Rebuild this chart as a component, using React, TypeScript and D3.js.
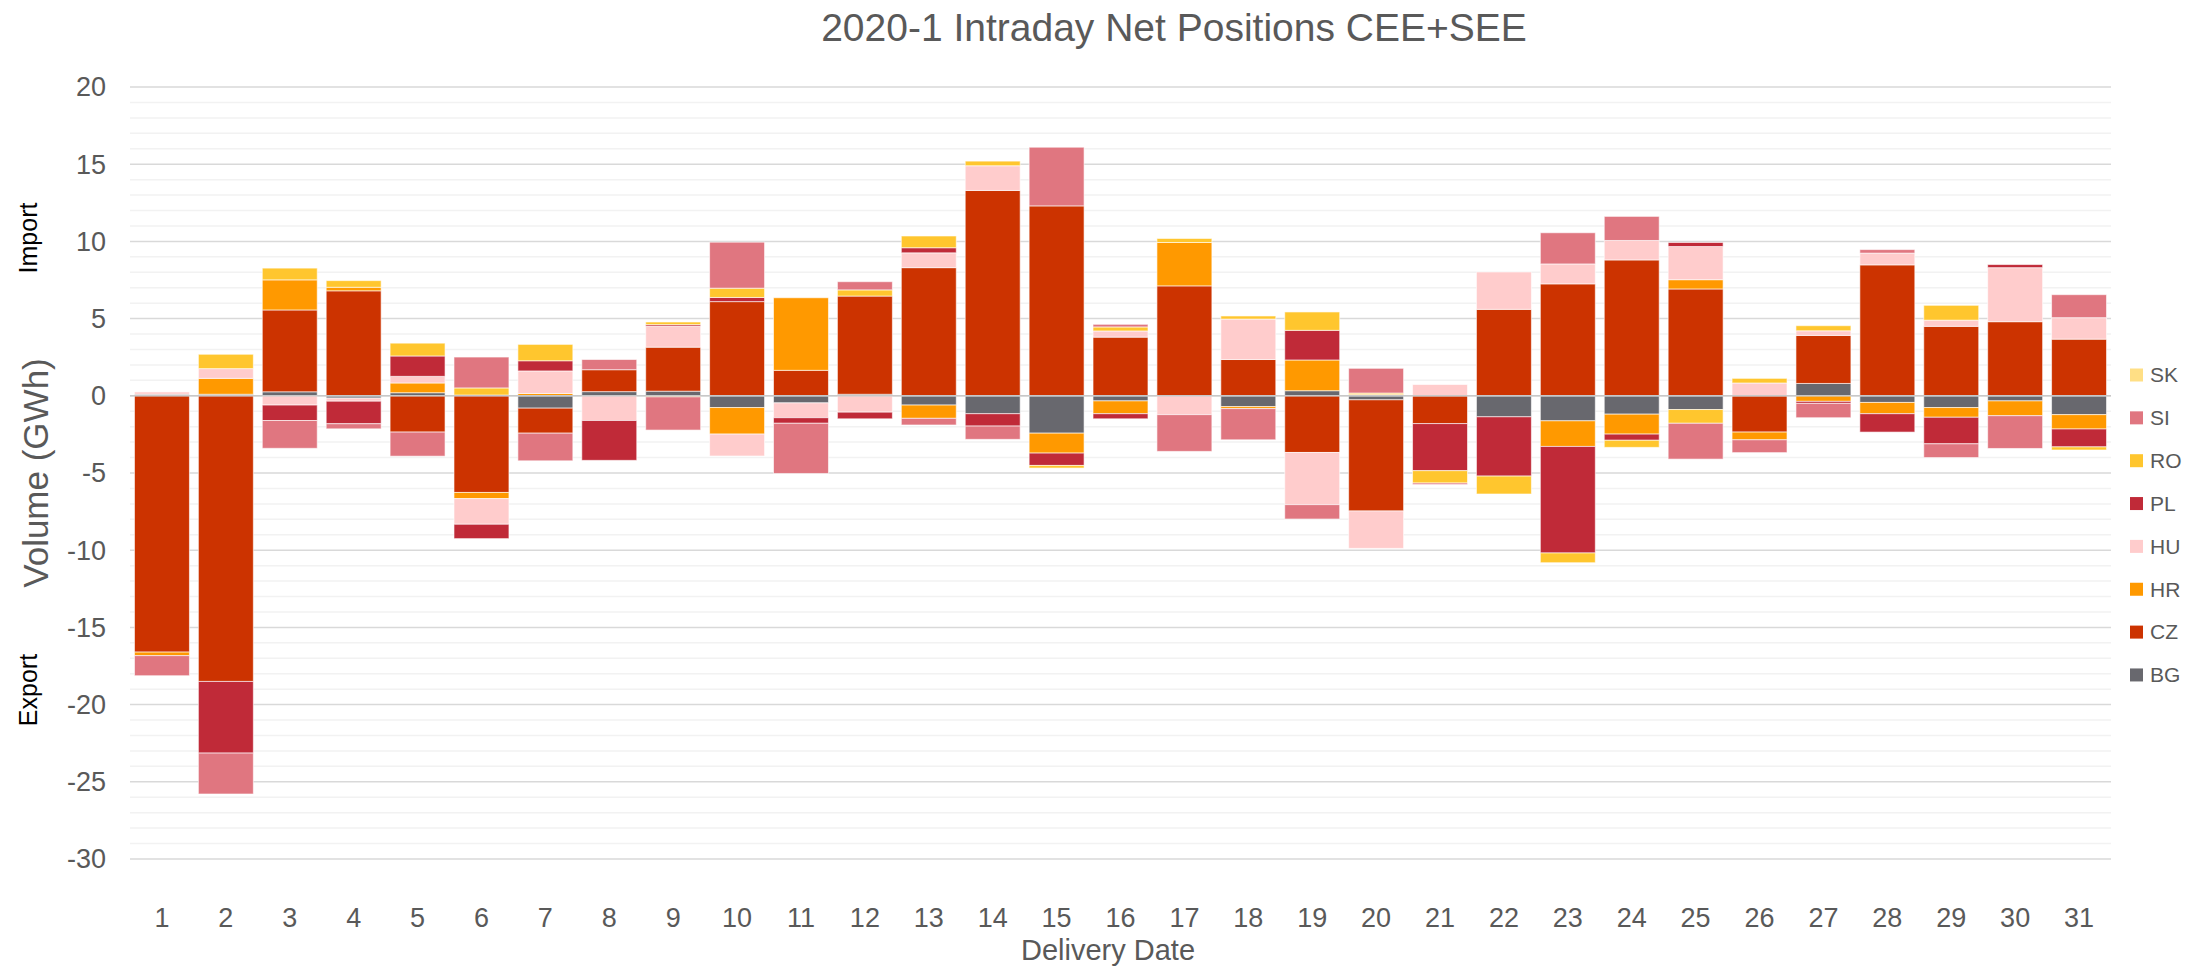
import React from "react";
import * as d3 from "d3";

const days = d3.range(1, 32).map(String);
const seriesKeys = ["BG", "CZ", "HR", "HU", "PL", "RO", "SI", "SK"];
const legendOrder = ["SK", "SI", "RO", "PL", "HU", "HR", "CZ", "BG"];

const BG = [0.1, 0.1, 0.26, -0.15, 0.2, 0.05, -0.8, 0.27, 0.3, -0.76, -0.46, 0.1, -0.6, -1.16, -2.42, -0.33, 0, -0.7, 0.33, -0.26, 0, -1.36, -1.62, -1.19, -0.89, 0, 0.8, -0.43, -0.76, -0.33, -1.22];
const CZ = [-16.6, -18.5, 5.3, 6.8, -2.35, -6.26, -1.62, 1.42, 2.85, 6.1, 1.65, 6.36, 8.3, 13.3, 12.3, 3.8, 7.12, 2.35, -3.67, -7.2, -1.8, 5.6, 7.25, 8.8, 6.92, -2.35, 3.11, 8.48, 4.5, 4.8, 3.67];
const HR = [-0.23, 1.03, 1.95, 0.23, 0.63, -0.4, 0.15, 0, -0.07, -1.72, 4.7, 0, -0.86, 0, -1.29, -0.83, 2.81, -0.13, 1.99, 0.1, 0, 0, -1.66, -1.29, 0.6, -0.5, -0.36, -0.73, -0.63, -0.96, -0.93];
const HU = [0.15, 0.63, -0.6, -0.2, 0.43, -1.66, 1.46, -1.6, 1.36, -1.42, -0.96, -1.06, 0.96, 1.6, 0, 0.4, -1.22, 2.62, -3.38, -2.42, 0.73, 2.42, 1.29, 1.26, 2.15, 0.83, 0.3, 0.76, 0.4, 3.5, 1.39];
const PL = [0, -4.64, -1.0, -1.46, 1.32, -0.93, 0.66, -2.58, 0.1, 0.27, -0.36, -0.43, 0.33, -0.8, -0.8, -0.33, 0, 0, 1.92, 0, -3.05, -3.84, -6.9, -0.4, 0.26, 0, -0.13, -1.19, -1.72, 0.2, -1.16];
const RO = [0, 0.93, 0.76, 0.43, 0.83, 0.46, 1.06, 0, 0.17, 0.6, 0, 0.4, 0.76, 0.3, -0.17, 0.26, 0.26, 0.2, 1.19, 0.08, -0.8, -1.16, -0.63, -0.46, -0.89, 0.3, 0.33, 0, 0.96, 0, -0.2];
const SI = [-1.3, -2.65, -1.8, -0.33, -1.56, 2.0, -1.79, 0.66, -2.15, 2.98, -3.25, 0.53, -0.43, -0.86, 3.8, 0.17, -2.38, -2.02, -0.93, 1.6, -0.1, 0, 2.02, 1.56, -2.32, -0.83, -0.93, 0.23, -0.89, -2.12, 1.49];
const SK = new Array(31).fill(0);

const yTicks = [20, 15, 10, 5, 0, -5, -10, -15, -20, -25, -30];

const colors: Record<string, string> = {
  SK: "#FFDF85",
  SI: "#E07680",
  RO: "#FFC62E",
  PL: "#C02A38",
  HU: "#FFCCCC",
  HR: "#FF9900",
  CZ: "#CC3300",
  BG: "#68686E",
};

const seriesData: Record<string, number[]> = { BG, CZ, HR, HU, PL, RO, SI, SK };

const W = 2208;
const H = 967;
const plotLeft = 130;
const plotRight = 2111;
const plotTop = 87;
const plotBottom = 859;
const textColor = "#595959";
const font = "'Liberation Sans', Arial, sans-serif";

export default function App() {
  const table = days.map((d, i) => {
    const row: Record<string, number | string> = { day: d };
    seriesKeys.forEach((k) => (row[k] = seriesData[k][i]));
    return row;
  });

  const stack = d3
    .stack<Record<string, number | string>>()
    .keys(seriesKeys)
    .value((d, k) => d[k] as number)
    .offset(d3.stackOffsetDiverging);
  const stacked = stack(table);

  const x = d3
    .scaleBand<string>()
    .domain(days)
    .range([plotLeft, plotRight])
    .paddingInner(0.14)
    .paddingOuter(0.07);
  const y = d3.scaleLinear().domain([-30, 20]).range([plotBottom, plotTop]);

  const minor = d3.range(-30, 21, 1).filter((v) => v % 5 !== 0);

  return (
    <svg
      width={W}
      height={H}
      style={{ position: "absolute", left: 0, top: 0, background: "#fff" }}
      fontFamily={font}
    >
      <rect x={0} y={0} width={W} height={H} fill="#fff" />
      <text x={1174} y={41} textAnchor="middle" fontSize={39} fill={textColor}>
        2020-1 Intraday Net Positions CEE+SEE
      </text>

      {minor.map((v) => (
        <line key={"m" + v} x1={plotLeft} x2={plotRight} y1={y(v)} y2={y(v)} stroke="#F2F2F2" strokeWidth={1.5} />
      ))}
      {yTicks.map((v) => (
        <line key={"g" + v} x1={plotLeft} x2={plotRight} y1={y(v)} y2={y(v)} stroke="#D9D9D9" strokeWidth={1.5} />
      ))}

      {stacked.map((s) => (
        <g key={s.key} fill={colors[s.key]}>
          {s.map((d, i) => {
            const y0 = y(d[0]);
            const y1 = y(d[1]);
            const h = Math.abs(y0 - y1);
            if (h < 0.01) return null;
            return (
              <rect
                key={i}
                x={x(days[i])}
                y={Math.min(y0, y1)}
                width={x.bandwidth()}
                height={h}
                stroke="#ffffff"
                strokeOpacity={0.6}
                strokeWidth={1}
              />
            );
          })}
        </g>
      ))}

      <line x1={plotLeft} x2={plotRight} y1={y(0)} y2={y(0)} stroke="#C8C8C8" strokeWidth={1.5} />

      {yTicks.map((v) => (
        <text key={"yt" + v} x={106} y={y(v)} dy="0.35em" textAnchor="end" fontSize={27} fill={textColor}>
          {v}
        </text>
      ))}
      {days.map((d) => (
        <text key={"xt" + d} x={(x(d) ?? 0) + x.bandwidth() / 2} y={918} dy="0.35em" textAnchor="middle" fontSize={27} fill={textColor}>
          {d}
        </text>
      ))}

      <text x={1108} y={950} dy="0.35em" textAnchor="middle" fontSize={29} fill={textColor}>
        Delivery Date
      </text>
      <text
        transform={`translate(36, ${(plotTop + plotBottom) / 2}) rotate(-90)`}
        textAnchor="middle"
        dy="0.35em"
        fontSize={35}
        fill={textColor}
      >
        Volume (GWh)
      </text>
      <text transform={`translate(28, 238) rotate(-90)`} textAnchor="middle" dy="0.35em" fontSize={25} fill="#000">
        Import
      </text>
      <text transform={`translate(28, 690) rotate(-90)`} textAnchor="middle" dy="0.35em" fontSize={25} fill="#000">
        Export
      </text>

      {legendOrder.map((k, i) => {
        const cy = 375 + i * 42.85;
        return (
          <g key={"lg" + k}>
            <rect x={2130} y={cy - 6.5} width={13} height={13} fill={colors[k]} />
            <text x={2150} y={cy} dy="0.35em" fontSize={21} fill={textColor}>
              {k}
            </text>
          </g>
        );
      })}
    </svg>
  );
}
